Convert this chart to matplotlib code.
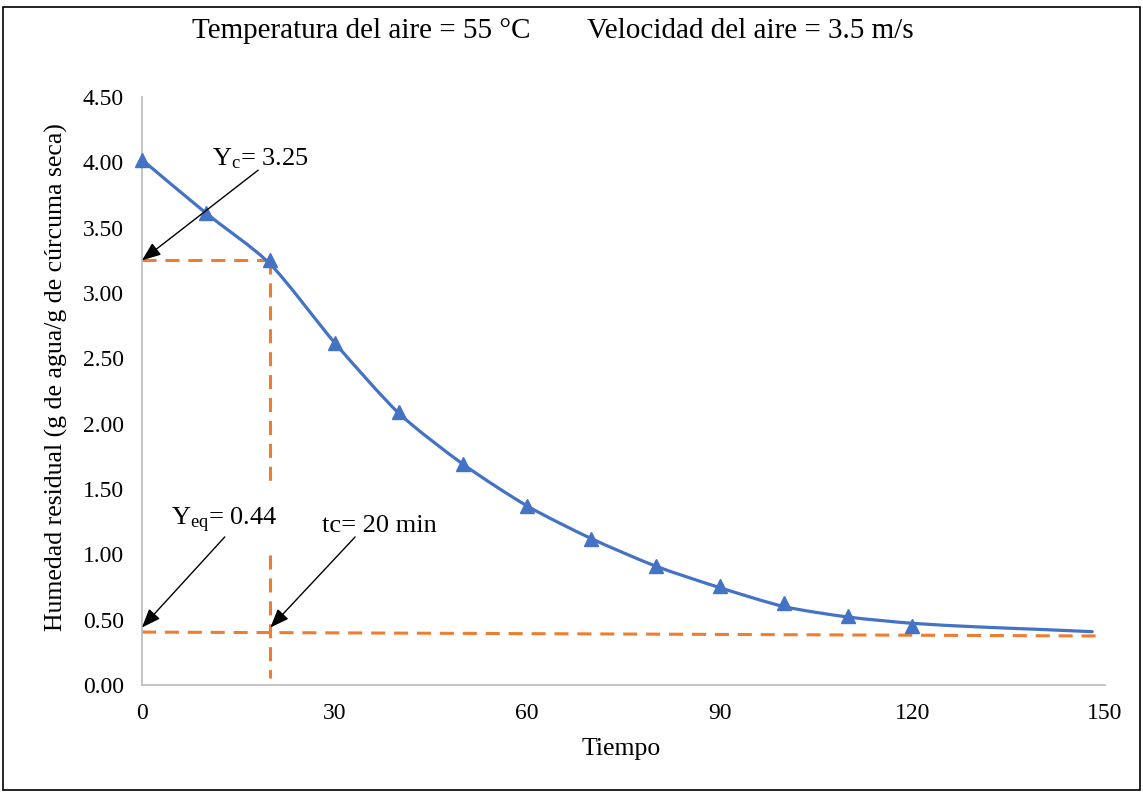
import numpy as np
import matplotlib
matplotlib.use("Agg")
import matplotlib.pyplot as plt
from matplotlib.path import Path
from matplotlib.patches import PathPatch, Rectangle

plt.rcParams["font.family"] = ["Liberation Serif", "DejaVu Serif"]
plt.rcParams["mathtext.fontset"] = "custom"
plt.rcParams["mathtext.rm"] = "Liberation Serif"
plt.rcParams["mathtext.it"] = "Liberation Serif:italic"

# Measured drying data (time in min, residual moisture)
tiempo = [0, 10, 20, 30, 40, 50, 60, 70, 80, 90, 100, 110, 120]
humedad = [4.02, 3.61, 3.25, 2.62, 2.09, 1.69, 1.37, 1.12, 0.91, 0.755, 0.63, 0.53, 0.45]

# Smoothed drying curve
curva_t = [0, 10, 20, 30, 40, 50, 60, 70, 80, 90, 100, 110, 120, 130, 140, 148]
curva_y = [4.02, 3.61, 3.22, 2.62, 2.08, 1.69, 1.37, 1.12, 0.91, 0.745, 0.60, 0.52, 0.472, 0.445, 0.425, 0.408]

# Critical and equilibrium values
yc = 3.25
tc = 20
yeq = 0.44
eq_line_t = [0, 149.5]
eq_line_y = [0.405, 0.375]

x_ticks = [0, 30, 60, 90, 120, 150]
y_ticks = [0.0, 0.5, 1.0, 1.5, 2.0, 2.5, 3.0, 3.5, 4.0, 4.5]

BLUE = "#4472C4"
ORANGE = "#ED7D31"


def smooth_path(xs, ys, k=8.0):
    """Cubic Bezier path through the points (Catmull-Rom style smoothing)."""
    p = np.column_stack([xs, ys]).astype(float)
    ext = np.vstack([p[0], p, p[-1]])
    verts = [p[0]]
    codes = [Path.MOVETO]
    for i in range(len(p) - 1):
        p0, p1, p2, p3 = ext[i], ext[i + 1], ext[i + 2], ext[i + 3]
        c1 = p1 + (p2 - p0) / k
        c2 = p2 - (p3 - p1) / k
        verts += [c1, c2, p2]
        codes += [Path.CURVE4] * 3
    return Path(verts, codes)


fig = plt.figure(figsize=(11.43, 7.93), dpi=100)
ax = fig.add_axes([0.1242, 0.1362, 0.8426, 0.7415])

ax.set_xlim(0, 150)
ax.set_ylim(0, 4.5)
ax.set_xticks(x_ticks)
ax.set_yticks(y_ticks)
ax.set_yticklabels([f"{v:.2f}" for v in y_ticks])
ax.tick_params(axis="both", length=0, labelsize=17)
ax.tick_params(axis="y", pad=13)
ax.tick_params(axis="x", pad=13)

for side in ("top", "right"):
    ax.spines[side].set_visible(False)
for side in ("left", "bottom"):
    ax.spines[side].set_color("#BFBFBF")
    ax.spines[side].set_linewidth(1.3)

# Reference dashed lines
dash_kw = dict(color=ORANGE, lw=2.2, linestyle=(0, (4.6, 2.9)), zorder=2,
               solid_capstyle="butt", dash_capstyle="butt", clip_on=False)
ax.plot([0, tc], [yc, yc], **dash_kw)
ax.plot([tc, tc], [yc, 1.515], **dash_kw)
ax.plot([tc, tc], [0.995, 0.054], **dash_kw)
ax.plot(eq_line_t, eq_line_y, **dash_kw)

# Drying curve and measured points
ax.add_patch(PathPatch(smooth_path(curva_t, curva_y), fill=False,
                       edgecolor=BLUE, lw=2.3, zorder=3, capstyle="round"))
ax.plot(tiempo, humedad, linestyle="none", marker="^", ms=10,
        color=BLUE, mec=BLUE, zorder=4, clip_on=False)

# Annotations
arrow_kw = dict(arrowstyle="-|>,head_length=1.15,head_width=0.45",
                color="black", lw=1.0, shrinkA=0, shrinkB=0, mutation_scale=10)
ax.annotate("", xy=(0, yc), xytext=(18.1, 3.94), arrowprops=arrow_kw,
            annotation_clip=False, zorder=5)
ax.text(10.9, 3.98, r"$\mathregular{Y_c}$= 3.25", fontsize=19,
        ha="left", va="baseline", zorder=6)

ax.annotate("", xy=(0, yeq), xytext=(12.9, 1.133), arrowprops=arrow_kw,
            annotation_clip=False, zorder=5)
ax.text(4.5, 1.224, r"$\mathregular{Y_{eq}}$= 0.44", fontsize=19,
        ha="left", va="baseline", zorder=6)

ax.annotate("", xy=(tc, yeq), xytext=(33.2, 1.133), arrowprops=arrow_kw,
            annotation_clip=False, zorder=5)
ax.text(28.0, 1.173, "tc= 20 min", fontsize=19,
        ha="left", va="baseline", zorder=6)

# Axis titles
ax.set_xlabel("Tiempo", fontsize=18.5, va="center")
ax.xaxis.set_label_coords(0.498, (685 - 749) / 588)
ax.set_ylabel("Humedad residual (g de agua/g de cúrcuma seca)", fontsize=18.5,
              va="center")
ax.yaxis.set_label_coords(-0.0893, 0.524)

# Chart title
fig.text(192 / 1143, 1 - 31 / 793, "Temperatura del aire = 55 °C",
         fontsize=21, ha="left", va="center")
fig.text(587 / 1143, 1 - 31 / 793, "Velocidad del aire = 3.5 m/s",
         fontsize=21, ha="left", va="center")

# Chart border
fig.patches.append(Rectangle((0.003, 0.004), 0.994, 0.987,
                             transform=fig.transFigure, fill=False,
                             edgecolor="black", lw=1.2))

fig.savefig("out.png", dpi=100)
